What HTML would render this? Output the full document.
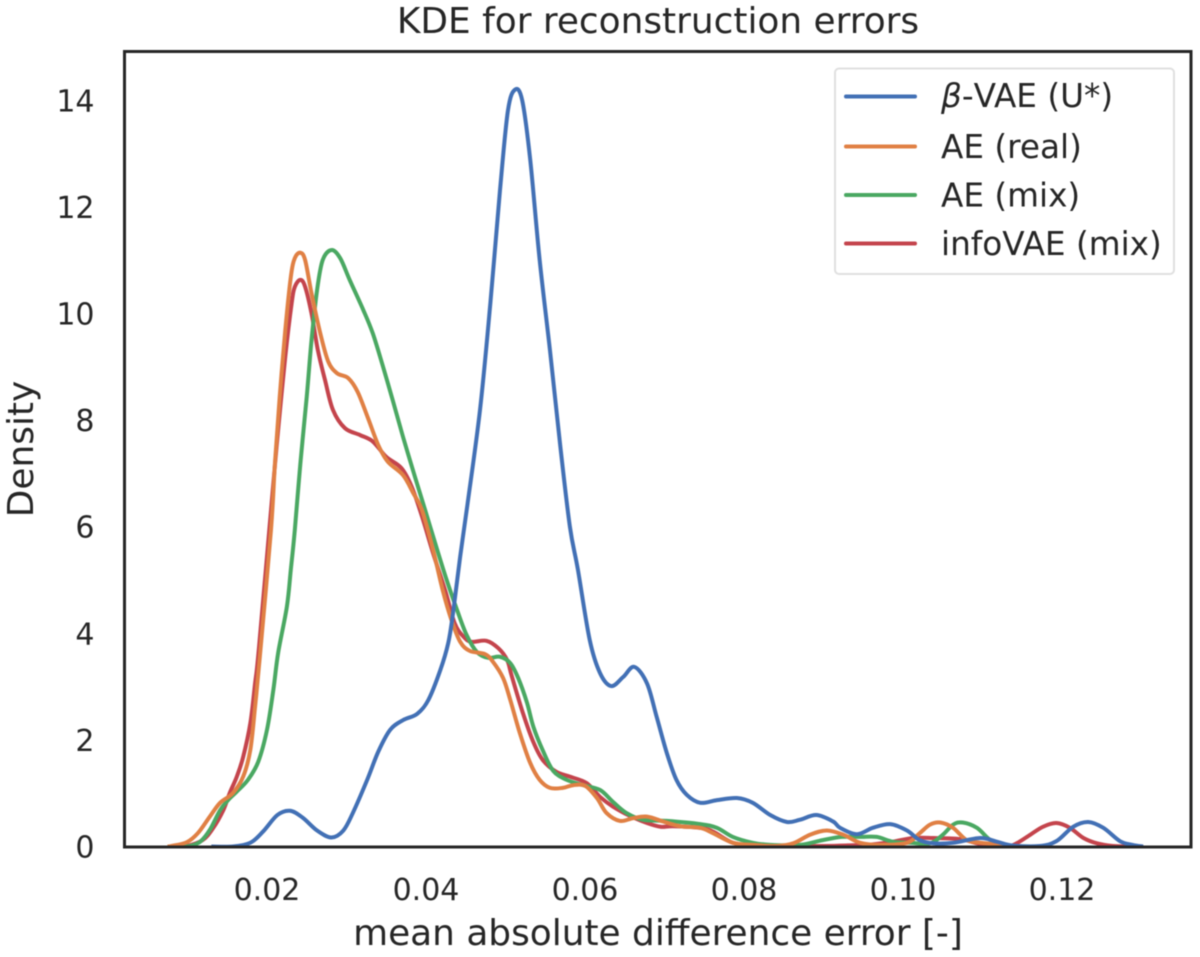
<!DOCTYPE html>
<html lang="en">
<head>
<meta charset="utf-8">
<title>KDE for reconstruction errors</title>
<style>
html,body{margin:0;padding:0;background:#fff;width:1200px;height:957px;overflow:hidden}
svg{display:block;filter:blur(0.5px)}
text{font-family:"DejaVu Sans","Liberation Sans",sans-serif;fill:#262626}
</style>
</head>
<body>
<svg id="chart" xmlns="http://www.w3.org/2000/svg" width="1200" height="957" viewBox="0 0 1200 957">
  <defs><clipPath id="plot-clip"><rect x="124" y="51" width="1067" height="796"/></clipPath></defs>
  <text x="658" y="33" font-size="35.9" text-anchor="middle">KDE for reconstruction errors</text>
  <g id="series-layer" clip-path="url(#plot-clip)"></g>
  <g id="xticks"></g>
  <g id="yticks"></g>
  <rect x="124.5" y="51.5" width="1066.5" height="795.5" fill="none" stroke="#262626" stroke-width="3"/>
  <text x="658" y="945" font-size="35.9" text-anchor="middle">mean absolute difference error [-]</text>
  <text transform="translate(33,449) rotate(-90)" font-size="35.9" text-anchor="middle">Density</text>
  <g>
    <rect x="835" y="68.5" width="339" height="205.5" rx="4" fill="#fff" stroke="#e0e0e0" stroke-width="2"/>
    <line x1="846" x2="915" y1="96.5" y2="96.5" stroke="#4270b5" stroke-width="4" stroke-linecap="round"/>
    <text x="941" y="107" font-size="32.7"><tspan font-style="italic">β</tspan>-VAE (U*)</text>
    <line x1="846" x2="915" y1="146.5" y2="146.5" stroke="#e08044" stroke-width="4" stroke-linecap="round"/>
    <text x="941" y="158" font-size="32.7">AE (real)</text>
    <line x1="846" x2="915" y1="195" y2="195" stroke="#4aa862" stroke-width="4" stroke-linecap="round"/>
    <text x="941" y="206.5" font-size="32.7">AE (mix)</text>
    <line x1="846" x2="915" y1="243.5" y2="243.5" stroke="#c4444c" stroke-width="4" stroke-linecap="round"/>
    <text x="941" y="255" font-size="32.7">infoVAE (mix)</text>
  </g>
</svg>
<script>
const xTickLabels = ["0.02","0.04","0.06","0.08","0.10","0.12"];
const yTickLabels = ["0","2","4","6","8","10","12","14"];

const betaX = [.0130,.0157,.0179,.0195,.0213,.0229,.0245,.0263,.0281,.0296,.0308,.0326,.034,.0355,.0371,.0389,.0403,.0418,.0428,.0434,.0443,.0452,.0468,.0481,.0493,.0503,.0512,.0521,.0531,.0543,.0556,.0569,.0581,.0591,.0606,.0619,.0633,.0648,.0662,.0678,.069,.0703,.0715,.0728,.0745,.0766,.0791,.0811,.0833,.0854,.087,.0891,.0912,.0921,.0942,.0962,.0984,.1005,.1021,.1038,.1063,.1097,.1118,.1138,.1172,.1193,.1214,.1233,.1252,.1273,.1289,.1302];
const betaY = [0,0,.07,.28,.59,.67,.54,.30,.17,.30,.63,1.25,1.78,2.19,2.37,2.49,2.75,3.31,3.82,4.38,5.44,6.4,8.2,10.2,12.3,13.8,14.2,14.0,12.9,11.0,9.3,7.5,6.0,5.2,3.87,3.25,3.01,3.18,3.37,3.06,2.44,1.75,1.25,.97,.82,.87,.91,.82,.59,.46,.5,.59,.47,.35,.23,.35,.42,.3,.12,.06,.07,.16,.09,.02,.01,.1,.37,.46,.35,.1,.03,0];

const realX = [.0075,.008,.0099,.0113,.0128,.0141,.0157,.017,.0179,.0185,.0191,.0205,.021,.0216,.0223,.023,.0235,.0242,.0248,.0256,.0267,.0277,.0288,.0302,.0314,.0327,.034,.0352,.0371,.0384,.0395,.0409,.0421,.0432,.0443,.0455,.0474,.0484,.0497,.0506,.0518,.0531,.0543,.0556,.0572,.0585,.06,.0615,.0627,.0644,.066,.0678,.0698,.072,.0745,.0761,.0786,.0811,.0841,.0862,.0883,.0904,.0925,.0946,.0971,.1005,.1021,.1034,.1047,.1063,.108,.1097,.1113,.113,.1147];
const realY = [0,.01,.08,.25,.56,.82,1.0,1.31,1.81,2.62,3.56,5.94,7.19,8.44,9.69,10.69,11.04,11.14,11.0,10.38,9.63,9.1,8.88,8.79,8.53,8.04,7.53,7.22,6.97,6.63,6.31,5.56,4.81,4.25,3.84,3.67,3.61,3.47,3.16,2.75,2.13,1.57,1.25,1.1,1.1,1.15,1.14,.91,.63,.48,.53,.56,.47,.38,.35,.25,.07,.03,.01,.06,.22,.3,.22,.07,.03,.07,.25,.41,.45,.35,.12,.07,.05,.02,0];

const mixX = [.0090,.0103,.0116,.0128,.0141,.0151,.0162,.0176,.0189,.02,.0208,.0214,.0225,.023,.0235,.0242,.025,.0256,.0263,.027,.0281,.0292,.0304,.0321,.0333,.0346,.0358,.0371,.0386,.0399,.0413,.0426,.0439,.0451,.0464,.0478,.0493,.0506,.0516,.0527,.0535,.0547,.056,.0577,.0598,.0619,.0635,.0652,.0673,.0703,.0745,.0766,.0786,.0811,.0833,.087,.0899,.0923,.0946,.0967,.0987,.1009,.1034,.105,.1063,.1075,.1093,.111,.1126,.1138,.116];
const mixY = [0,.01,.09,.31,.68,.87,1.03,1.25,1.59,2.19,2.94,3.63,4.5,5.2,5.94,7.19,8.44,9.5,10.44,11.0,11.19,11.04,10.63,10.07,9.63,9.0,8.38,7.69,6.94,6.31,5.62,5.0,4.44,3.97,3.65,3.54,3.56,3.44,3.16,2.7,2.25,1.8,1.42,1.25,1.15,1.06,.84,.63,.5,.48,.42,.35,.18,.07,.03,.03,.12,.18,.18,.18,.09,.07,.06,.22,.41,.45,.35,.12,.05,.01,0];

const infoX = [.0085,.0099,.0119,.0132,.0145,.0153,.0162,.017,.0179,.0185,.019,.0208,.0214,.0223,.0231,.0235,.0242,.0248,.0256,.0264,.0273,.0283,.0298,.0317,.0333,.035,.0369,.0382,.0395,.0409,.0424,.0436,.0447,.0457,.0476,.0491,.0502,.0508,.0522,.0535,.0547,.0564,.0581,.0602,.0619,.0635,.0657,.0678,.0695,.0711,.0745,.0761,.0786,.0811,.085,.09,.093,.0962,.0987,.1013,.1038,.1072,.1093,.1113,.1133,.1143,.116,.1176,.1193,.121,.1227,.1244,.1264,.1285];
const infoY = [0,.01,.12,.34,.68,1.0,1.31,1.68,2.31,3.06,3.75,6.82,7.81,9.19,10.19,10.5,10.63,10.5,10.0,9.31,8.75,8.19,7.85,7.72,7.6,7.31,7.1,6.75,6.19,5.5,4.81,4.19,3.94,3.84,3.86,3.72,3.5,3.19,2.5,1.96,1.62,1.4,1.31,1.19,.93,.75,.57,.44,.37,.38,.35,.28,.07,.03,.01,.01,.02,.04,.09,.16,.16,.14,.06,.03,.01,.06,.22,.37,.44,.35,.16,.06,.01,0];

function xScale(v){ return 267 + (v - 0.02) * 7950; }
function yScale(v){ return 846.5 - v * 53.3; }

function splinePath(xs, ys){
  const p = xs.map((x, i) => [xScale(x), yScale(ys[i])]);
  let d = "M" + p[0][0].toFixed(2) + " " + p[0][1].toFixed(2);
  for (let i = 0; i < p.length - 1; i++){
    const p0 = p[Math.max(i - 1, 0)], p1 = p[i], p2 = p[i + 1], p3 = p[Math.min(i + 2, p.length - 1)];
    const c1x = p1[0] + (p2[0] - p0[0]) / 6, c1y = p1[1] + (p2[1] - p0[1]) / 6;
    const c2x = p2[0] - (p3[0] - p1[0]) / 6, c2y = p2[1] - (p3[1] - p1[1]) / 6;
    d += "C" + c1x.toFixed(2) + " " + c1y.toFixed(2) + " " + c2x.toFixed(2) + " " + c2y.toFixed(2) + " " + p2[0].toFixed(2) + " " + p2[1].toFixed(2);
  }
  return d;
}

const NS = "http://www.w3.org/2000/svg";
const layer = document.getElementById("series-layer");

function drawSeries(name, xs, ys, color){
  const path = document.createElementNS(NS, "path");
  
  
  path.setAttribute("d", splinePath(xs, ys));
  path.setAttribute("fill", "none");
  path.setAttribute("stroke", color);
  path.setAttribute("stroke-width", "4");
  path.setAttribute("stroke-linejoin", "round");
  layer.appendChild(path);
}
drawSeries("curve-infovae-mix", infoX, infoY, "#c4444c");
drawSeries("curve-ae-mix", mixX, mixY, "#4aa862");
drawSeries("curve-ae-real", realX, realY, "#e08044");
drawSeries("curve-beta-vae", betaX, betaY, "#4270b5");

const xg = document.getElementById("xticks");
xTickLabels.forEach(label => {
  const t = document.createElementNS(NS, "text");
  
  
  t.setAttribute("x", xScale(parseFloat(label)));
  t.setAttribute("y", 900);
  t.setAttribute("font-size", "30");
  t.setAttribute("text-anchor", "middle");
  t.textContent = label;
  xg.appendChild(t);
});
const yg = document.getElementById("yticks");
yTickLabels.forEach(label => {
  const t = document.createElementNS(NS, "text");
  
  
  t.setAttribute("x", 94.5);
  t.setAttribute("y", yScale(parseFloat(label)) + 11);
  t.setAttribute("font-size", "30");
  t.setAttribute("text-anchor", "end");
  t.textContent = label;
  yg.appendChild(t);
});
</script>
</body>
</html>
